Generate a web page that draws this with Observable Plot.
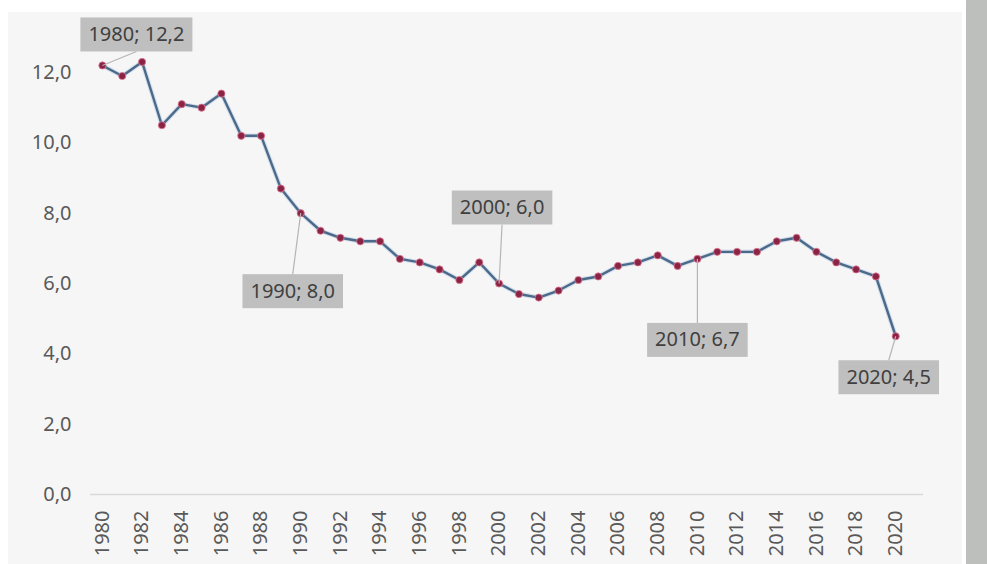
<!DOCTYPE html>
<html>
<head>
<meta charset="utf-8">
<script src="https://cdn.jsdelivr.net/npm/d3@7"></script>
<script src="https://cdn.jsdelivr.net/npm/@observablehq/plot@0.6"></script>
<style>
  html, body { margin: 0; padding: 0; background: #ffffff; }
  #wrap { position: relative; width: 987px; height: 564px; overflow: hidden; font-family: "Noto Sans", sans-serif; }
  #panel { position: absolute; left: 8px; top: 12px; width: 954px; height: 552px; background: #f6f6f6; }
  #side { position: absolute; left: 966px; top: 0; width: 21px; height: 564px; background: #bdbfbd; }
  #chart { position: absolute; left: 0; top: 0; }
</style>
</head>
<body>
<div id="wrap">
  <div id="panel"></div>
  <div id="side"></div>
  <div id="chart"></div>
</div>
<script>
// Annual values, 1980–2020
const years = [
  1980, 1981, 1982, 1983, 1984, 1985, 1986, 1987, 1988, 1989,
  1990, 1991, 1992, 1993, 1994, 1995, 1996, 1997, 1998, 1999,
  2000, 2001, 2002, 2003, 2004, 2005, 2006, 2007, 2008, 2009,
  2010, 2011, 2012, 2013, 2014, 2015, 2016, 2017, 2018, 2019,
  2020
];
const values = [
  12.2, 11.9, 12.3, 10.5, 11.1, 11.0, 11.4, 10.2, 10.2, 8.7,
  8.0, 7.5, 7.3, 7.2, 7.2, 6.7, 6.6, 6.4, 6.1, 6.6,
  6.0, 5.7, 5.6, 5.8, 6.1, 6.2, 6.5, 6.6, 6.8, 6.5,
  6.7, 6.9, 6.9, 6.9, 7.2, 7.3, 6.9, 6.6, 6.4, 6.2,
  4.5
];
const yTicks = [0, 2, 4, 6, 8, 10, 12];
const xTicks = [
  1980, 1982, 1984, 1986, 1988, 1990, 1992, 1994, 1996, 1998,
  2000, 2002, 2004, 2006, 2008, 2010, 2012, 2014, 2016, 2018, 2020
];
const calloutYears = [1980, 1990, 2000, 2010, 2020];

// Pixel offsets of each callout box centre from its point
const calloutOffsets = {
  1980: [34, -31],
  1990: [-8, 78],
  2000: [3, -76],
  2010: [0, 81],
  2020: [-7, 41]
};

const fmt = v => v.toFixed(1).replace(".", ",");
const data = years.map((year, i) => ({year, value: values[i]}));
const callouts = data.filter(d => calloutYears.includes(d.year));

const marks = [
  Plot.ruleY([0], {stroke: "#d9d9d9", strokeWidth: 1.5}),
  Plot.line(data, {x: "year", y: "value", stroke: "#a9c4e0", strokeWidth: 4.5, strokeOpacity: 0.45}),
  Plot.line(data, {x: "year", y: "value", stroke: "#4b6a8a", strokeWidth: 2.4}),
  Plot.dot(data, {x: "year", y: "value", r: 3.6, fill: "#8a2444", stroke: "#e27a95", strokeWidth: 0.8})
];
callouts.forEach(d => {
  const [dx, dy] = calloutOffsets[d.year];
  marks.push(Plot.dot([d], {x: "year", y: "value", r: 1, fill: "none", stroke: "none", className: "callout-anchor"}));
  marks.push(Plot.text([d], {
    x: "year", y: "value", dx, dy,
    text: p => `${p.year}; ${fmt(p.value)}`,
    fill: "#404040", fontSize: 20, className: "callout-label"
  }));
});

const chart = Plot.plot({
  width: 987,
  height: 564,
  marginLeft: 90,
  marginRight: 64,
  marginTop: 72,
  marginBottom: 70,
  style: {background: "transparent", color: "#595959", fontFamily: "'Noto Sans', sans-serif", fontSize: "20px", overflow: "visible"},
  x: {domain: [1979.4, 2021.4], ticks: xTicks, tickFormat: d => String(d), tickRotate: -90, tickSize: 0, tickPadding: 16, label: null},
  y: {domain: [0, 12], ticks: yTicks, tickFormat: fmt, tickSize: 0, tickPadding: 19, label: null},
  marks
});
document.getElementById("chart").append(chart);

// Callout boxes and leader lines, placed behind the callout texts
const svgBox = chart.getBoundingClientRect();
let anchorGroups = chart.querySelectorAll("g.callout-anchor");
let labelGroups = chart.querySelectorAll("g.callout-label");
if (anchorGroups.length !== callouts.length || labelGroups.length !== callouts.length) {
  const dots = chart.querySelectorAll('g[aria-label="dot"]');
  const texts = chart.querySelectorAll('g[aria-label="text"]');
  anchorGroups = Array.from(dots).slice(-callouts.length);
  labelGroups = Array.from(texts).slice(-callouts.length);
}
const layer = document.createElementNS("http://www.w3.org/2000/svg", "g");
labelGroups[0].parentNode.insertBefore(layer, labelGroups[0]);
const g = d3.select(layer);
callouts.forEach((d, i) => {
  const [dx, dy] = calloutOffsets[d.year];
  const c = anchorGroups[i].querySelector("circle").getBoundingClientRect();
  const t = labelGroups[i].querySelector("text").getBoundingClientRect();
  const cx = c.left + c.width / 2 - svgBox.left;
  const cy = c.top + c.height / 2 - svgBox.top;
  const bx = t.left - svgBox.left - 8;
  const bw = t.width + 16;
  const bh = 34;
  const by = cy + dy - bh / 2;
  const ex = bx + bw / 2;
  const ey = dy < 0 ? by + bh : by;
  g.append("line")
    .attr("x1", cx).attr("y1", cy).attr("x2", ex).attr("y2", ey)
    .attr("stroke", "#b5b5b5").attr("stroke-width", 1.2);
  g.append("rect")
    .attr("x", bx).attr("y", by).attr("width", bw).attr("height", bh)
    .attr("fill", "#bfbfbf");
});
</script>
</body>
</html>
